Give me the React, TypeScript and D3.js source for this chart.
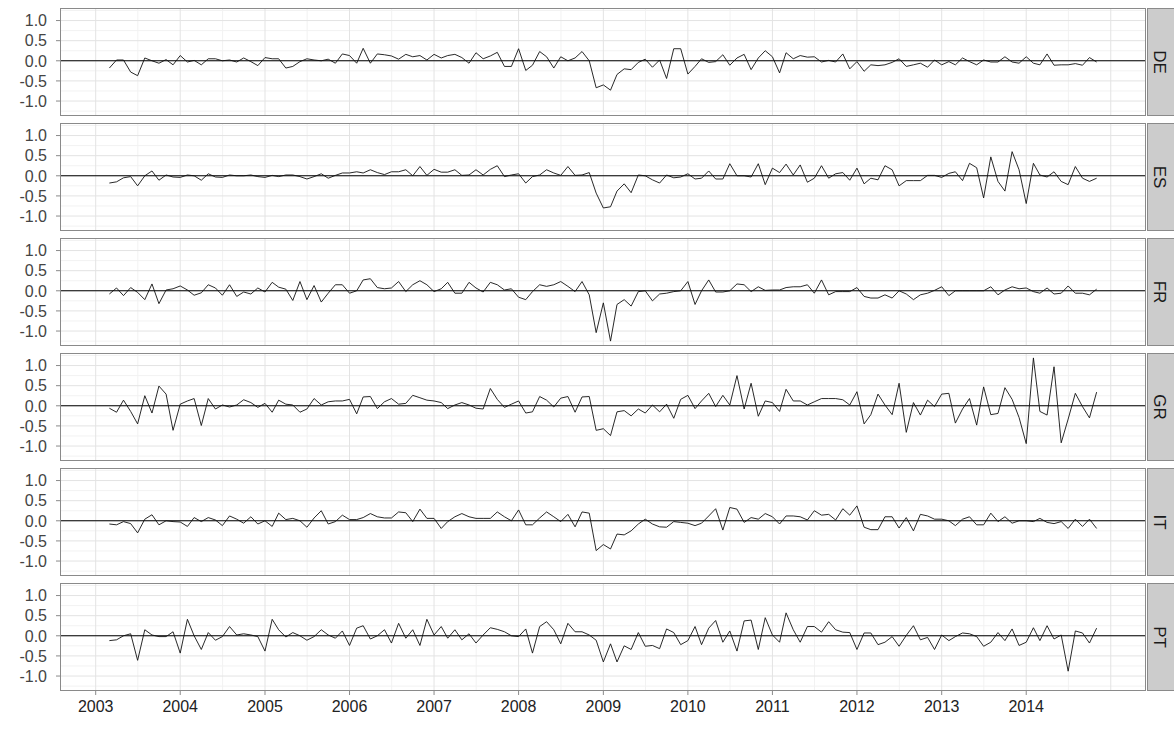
import * as d3 from 'd3'
import { useEffect, useRef } from 'react'

// monthly observations, Mar 2003 .. Nov 2014
const months = d3.timeMonth.range(new Date(2003, 2, 1), new Date(2014, 11, 1))
const countries = ['DE', 'ES', 'FR', 'GR', 'IT', 'PT']
const yearTicks = [2003, 2004, 2005, 2006, 2007, 2008, 2009, 2010, 2011, 2012, 2013, 2014]
const yTicks = [-1, -0.5, 0, 0.5, 1]
const yMinor = [-1.25, -0.75, -0.25, 0.25, 0.75, 1.25]

const DE = [
  -0.18, 0.02, 0.02, -0.28, -0.37, 0.07, 0.0, -0.06, 0.03, -0.1,
  0.13, -0.03, 0.01, -0.1, 0.05, 0.05, 0.0, 0.02, -0.03, 0.07, -0.02, -0.12,
  0.08, 0.05, 0.05, -0.18, -0.14, -0.02, 0.05, 0.02, 0.0, 0.04, -0.06, 0.17,
  0.13, -0.06, 0.31, -0.06, 0.17, 0.15, 0.12, 0.04, 0.16, 0.1, 0.13, 0.02,
  0.16, 0.07, 0.13, 0.16, 0.08, -0.06, 0.2, 0.05, 0.12, 0.21, -0.14, -0.14,
  0.3, -0.24, -0.11, 0.23, 0.1, -0.18, 0.1, 0.0, 0.07, 0.23, 0.0, -0.67,
  -0.6, -0.73, -0.34, -0.2, -0.22, -0.04, 0.04, -0.16, 0.02, -0.44, 0.3, 0.3,
  -0.33, -0.14, 0.05, -0.04, -0.02, 0.15, -0.11, 0.07, 0.16, -0.22, 0.07, 0.25,
  0.1, -0.3, 0.2, 0.05, 0.13, 0.09, 0.1, -0.03, 0.01, -0.03, 0.17, -0.2,
  -0.02, -0.26, -0.1, -0.12, -0.1, -0.04, 0.05, -0.14, -0.1, -0.06, -0.16, 0.02,
  -0.1, -0.02, -0.1, 0.07, -0.02, -0.1, 0.02, -0.03, -0.03, 0.1, -0.03, -0.06,
  0.1, -0.06, -0.1, 0.17, -0.11, -0.1, -0.1, -0.07, -0.11, 0.08, -0.03,
]

const ES = [
  -0.18, -0.15, -0.05, -0.02, -0.25, 0.0, 0.12, -0.11, 0.02, -0.03,
  -0.04, 0.02, 0.0, -0.11, 0.05, -0.03, -0.04, 0.02, 0.0, 0.0, 0.02, -0.02,
  -0.04, 0.01, -0.02, 0.02, 0.02, -0.02, -0.08, -0.02, 0.05, -0.06, 0.01, 0.07,
  0.07, 0.1, 0.07, 0.15, 0.08, 0.03, 0.1, 0.1, 0.15, 0.0, 0.23, 0.01,
  0.16, 0.09, 0.09, 0.15, 0.01, 0.02, 0.15, 0.02, 0.16, 0.25, -0.02, 0.02,
  0.05, -0.18, -0.02, 0.02, 0.15, 0.07, 0.01, 0.23, 0.01, 0.02, 0.08, -0.43,
  -0.8, -0.77, -0.38, -0.2, -0.42, 0.02, 0.0, -0.1, -0.18, 0.02, -0.05, -0.03,
  0.05, -0.08, -0.06, 0.12, -0.08, -0.08, 0.3, 0.0, 0.0, -0.03, 0.3, -0.22,
  0.19, 0.08, 0.29, 0.02, 0.27, -0.16, -0.06, 0.25, -0.06, 0.05, 0.08, -0.11,
  0.19, -0.2, -0.06, -0.1, 0.25, 0.15, -0.25, -0.12, -0.12, -0.12, 0.01, 0.01,
  -0.04, 0.06, 0.1, -0.12, 0.31, 0.2, -0.55, 0.47, -0.14, -0.38, 0.6, 0.15,
  -0.69, 0.31, 0.02, -0.03, 0.1, -0.14, -0.22, 0.23, -0.06, -0.14, -0.06,
]

const FR = [
  -0.08, 0.07, -0.12, 0.08, -0.04, -0.22, 0.17, -0.32, 0.02, 0.05,
  0.12, 0.02, -0.11, -0.05, 0.15, 0.07, -0.11, 0.15, -0.14, -0.03, -0.08, 0.07,
  -0.03, 0.21, 0.09, 0.04, -0.24, 0.23, -0.22, 0.13, -0.28, -0.06, 0.15, 0.15,
  -0.06, 0.0, 0.27, 0.3, 0.08, 0.05, 0.07, 0.23, -0.02, 0.15, 0.25, 0.15,
  -0.02, 0.05, 0.21, -0.06, -0.06, 0.21, 0.07, -0.03, 0.21, 0.15, 0.02, 0.05,
  -0.16, -0.22, -0.02, 0.15, 0.11, 0.15, 0.23, 0.11, -0.02, 0.23, -0.1, -1.04,
  -0.3, -1.25, -0.34, -0.22, -0.38, -0.02, 0.0, -0.25, -0.08, -0.06, -0.02, 0.0,
  0.23, -0.34, 0.0, 0.27, -0.03, -0.03, 0.0, 0.17, 0.15, -0.02, 0.1, 0.01,
  0.02, 0.02, 0.08, 0.1, 0.1, 0.15, -0.06, 0.27, -0.1, -0.02, -0.02, -0.02,
  0.08, -0.14, -0.18, -0.18, -0.1, -0.18, 0.0, -0.08, -0.22, -0.1, -0.06, 0.01,
  0.1, -0.12, 0.0, 0.0, 0.0, 0.0, 0.0, 0.1, -0.1, 0.02, 0.1, 0.05,
  0.07, -0.02, -0.06, 0.07, -0.08, -0.06, 0.12, -0.06, -0.06, -0.1, 0.04,
]

const GR = [
  -0.06, -0.16, 0.14, -0.14, -0.45, 0.25, -0.18, 0.49, 0.29, -0.61,
  0.04, 0.12, 0.18, -0.49, 0.18, -0.08, 0.02, -0.03, 0.02, 0.15, 0.08, -0.04,
  0.06, -0.16, 0.14, 0.04, 0.02, -0.16, -0.08, 0.18, 0.02, 0.1, 0.12, 0.12,
  0.16, -0.2, 0.22, 0.23, -0.07, 0.1, 0.18, 0.04, 0.06, 0.26, 0.2, 0.14,
  0.12, 0.08, -0.07, 0.02, 0.08, 0.02, -0.06, -0.08, 0.43, 0.16, -0.04, 0.04,
  0.12, -0.18, -0.15, 0.23, 0.14, -0.03, 0.19, 0.23, -0.16, 0.22, 0.23, -0.61,
  -0.57, -0.74, -0.15, -0.12, -0.25, -0.08, -0.18, 0.02, -0.15, 0.04, -0.31, 0.16,
  0.26, -0.07, 0.12, 0.31, -0.02, 0.26, 0.02, 0.75, -0.08, 0.56, -0.26, 0.12,
  0.08, -0.14, 0.41, 0.12, 0.12, 0.02, 0.1, 0.18, 0.18, 0.18, 0.15, 0.02,
  0.35, -0.45, -0.22, 0.29, 0.02, -0.22, 0.56, -0.66, 0.08, -0.23, 0.14, -0.02,
  0.29, 0.31, -0.43, -0.08, 0.18, -0.48, 0.47, -0.22, -0.19, 0.45, 0.16, -0.29,
  -0.94, 1.19, -0.14, -0.23, 0.97, -0.92, -0.33, 0.31, -0.02, -0.3, 0.34,
]

const IT = [
  -0.08, -0.1, -0.02, -0.07, -0.3, 0.04, 0.15, -0.1, 0.0, -0.02,
  -0.03, -0.14, 0.08, -0.02, 0.08, 0.02, -0.12, 0.12, 0.04, -0.06, 0.1, -0.08,
  0.0, -0.14, 0.19, 0.03, 0.06, 0.0, -0.16, 0.07, 0.25, -0.08, -0.02, 0.14,
  0.03, 0.03, 0.08, 0.18, 0.1, 0.07, 0.07, 0.22, 0.2, -0.02, 0.29, 0.06,
  0.06, -0.19, -0.02, 0.1, 0.18, 0.1, 0.06, 0.06, 0.06, 0.22, 0.1, 0.0,
  0.27, -0.1, -0.1, 0.07, 0.22, 0.1, -0.02, 0.16, -0.15, 0.22, 0.19, -0.74,
  -0.59, -0.7, -0.33, -0.35, -0.25, -0.08, 0.04, -0.08, -0.15, -0.16, -0.02, -0.04,
  -0.06, -0.12, -0.06, 0.12, 0.3, -0.23, 0.33, 0.29, -0.04, 0.08, 0.04, 0.18,
  0.1, -0.08, 0.12, 0.12, 0.1, 0.02, 0.25, 0.14, 0.16, 0.02, 0.3, 0.14,
  0.37, -0.16, -0.22, -0.22, 0.1, 0.1, -0.18, 0.08, -0.25, 0.16, 0.12, 0.04,
  0.04, 0.0, -0.12, 0.04, 0.1, -0.1, -0.1, 0.19, -0.02, 0.1, -0.06, 0.0,
  0.0, -0.02, 0.06, -0.04, -0.07, -0.02, -0.19, 0.04, -0.14, 0.04, -0.19,
]

const PT = [
  -0.12, -0.1, 0.0, 0.05, -0.61, 0.15, 0.02, -0.02, -0.02, 0.1,
  -0.43, 0.41, 0.0, -0.34, 0.08, -0.11, -0.02, 0.23, 0.02, 0.05, 0.02, -0.02,
  -0.38, 0.41, 0.15, -0.03, 0.08, 0.0, -0.11, -0.02, 0.15, 0.02, -0.06, 0.12,
  -0.24, 0.19, 0.25, -0.08, 0.0, 0.15, -0.18, 0.31, -0.06, 0.15, -0.24, 0.41,
  0.02, 0.23, -0.06, 0.15, -0.1, 0.05, -0.18, 0.02, 0.2, 0.16, 0.1, 0.0,
  -0.02, 0.17, -0.43, 0.23, 0.35, 0.15, -0.2, 0.31, 0.1, 0.1, 0.02, -0.11,
  -0.65, -0.2, -0.65, -0.25, -0.34, 0.08, -0.26, -0.24, -0.32, 0.17, 0.08, -0.22,
  -0.12, 0.23, -0.22, 0.19, 0.38, -0.16, 0.12, -0.38, 0.37, 0.39, -0.34, 0.45,
  0.02, -0.16, 0.57, 0.15, -0.16, 0.23, 0.23, 0.09, 0.35, 0.15, 0.09, 0.08,
  -0.34, 0.07, 0.07, -0.22, -0.16, -0.02, -0.26, 0.01, 0.25, -0.1, -0.04, -0.34,
  0.02, -0.12, -0.02, 0.07, 0.05, -0.02, -0.26, -0.16, 0.08, -0.12, 0.17, -0.24,
  -0.16, 0.2, -0.12, 0.25, -0.08, 0.02, -0.88, 0.12, 0.07, -0.18, 0.19,
]

const seriesByCountry: Record<string, number[]> = { DE, ES, FR, GR, IT, PT }

const W = 1174
const H = 729
const LEFT = 60
const RIGHT = 1146
const STRIP_W = 28
const TOP0 = 8
const PANEL_H = 108
const PANEL_STEP = 115
const FONT = '"Liberation Sans", Arial, sans-serif'

export default function App() {
  const ref = useRef<SVGSVGElement | null>(null)

  useEffect(() => {
    const svgEl = ref.current
    if (!svgEl) return
    const svg = d3.select(svgEl)
    svg.selectAll('*').remove()

    const t0 = months[0].getTime()
    const t1 = months[months.length - 1].getTime()
    const padT = (t1 - t0) * 0.05
    const x = d3
      .scaleTime()
      .domain([new Date(t0 - padT), new Date(t1 + padT)])
      .range([LEFT, RIGHT])
    const [dx0, dx1] = x.domain()

    const all = countries.flatMap((c) => seriesByCountry[c])
    const vMin = d3.min(all) ?? -1
    const vMax = d3.max(all) ?? 1
    const padV = (vMax - vMin) * 0.05

    const majorX = d3.range(2002, 2017).map((yr) => new Date(yr, 0, 1)).filter((d) => d > dx0 && d < dx1)
    const minorX = d3.range(2002, 2017).map((yr) => new Date(yr, 6, 2)).filter((d) => d > dx0 && d < dx1)

    countries.forEach((c, i) => {
      const top = TOP0 + i * PANEL_STEP
      const bottom = top + PANEL_H
      const y = d3.scaleLinear().domain([vMin - padV, vMax + padV]).range([bottom, top])
      const g = svg.append('g')

      g.append('rect')
        .attr('x', LEFT)
        .attr('y', top)
        .attr('width', RIGHT - LEFT)
        .attr('height', PANEL_H)
        .attr('fill', '#fff')

      // minor grid
      for (const v of yMinor) {
        g.append('line')
          .attr('x1', LEFT).attr('x2', RIGHT)
          .attr('y1', y(v)).attr('y2', y(v))
          .attr('stroke', '#f2f2f2').attr('stroke-width', 1)
      }
      for (const d of minorX) {
        g.append('line')
          .attr('x1', x(d)).attr('x2', x(d))
          .attr('y1', top).attr('y2', bottom)
          .attr('stroke', '#f2f2f2').attr('stroke-width', 1)
      }
      // major grid
      for (const v of yTicks) {
        g.append('line')
          .attr('x1', LEFT).attr('x2', RIGHT)
          .attr('y1', y(v)).attr('y2', y(v))
          .attr('stroke', '#e3e3e3').attr('stroke-width', 1)
      }
      for (const d of majorX) {
        g.append('line')
          .attr('x1', x(d)).attr('x2', x(d))
          .attr('y1', top).attr('y2', bottom)
          .attr('stroke', '#e3e3e3').attr('stroke-width', 1)
      }

      // zero reference line
      g.append('line')
        .attr('x1', LEFT).attr('x2', RIGHT)
        .attr('y1', y(0)).attr('y2', y(0))
        .attr('stroke', '#000').attr('stroke-width', 1.1)

      const vals = seriesByCountry[c]
      const line = d3
        .line<number>()
        .x((_, k) => x(months[k]))
        .y((v) => y(v))
      g.append('path')
        .attr('d', line(vals) ?? '')
        .attr('fill', 'none')
        .attr('stroke', '#111')
        .attr('stroke-width', 0.9)

      g.append('rect')
        .attr('x', LEFT + 0.5)
        .attr('y', top + 0.5)
        .attr('width', RIGHT - LEFT - 1)
        .attr('height', PANEL_H - 1)
        .attr('fill', 'none')
        .attr('stroke', '#8a8a8a')
        .attr('stroke-width', 1)

      // y axis
      for (const v of yTicks) {
        g.append('line')
          .attr('x1', LEFT - 4).attr('x2', LEFT)
          .attr('y1', y(v)).attr('y2', y(v))
          .attr('stroke', '#8a8a8a')
        g.append('text')
          .attr('x', LEFT - 13)
          .attr('y', y(v))
          .attr('dy', '0.36em')
          .attr('text-anchor', 'end')
          .attr('font-family', FONT)
          .attr('font-size', 16)
          .attr('fill', '#444')
          .text(d3.format('.1f')(v).replace('−', '-'))
      }

      // strip
      g.append('rect')
        .attr('x', RIGHT + 1.5)
        .attr('y', top + 0.5)
        .attr('width', STRIP_W)
        .attr('height', PANEL_H - 1)
        .attr('fill', '#cccccc')
        .attr('stroke', '#8a8a8a')
      g.append('text')
        .attr('transform', `translate(${RIGHT + 14},${top + PANEL_H / 2}) rotate(90)`)
        .attr('text-anchor', 'middle')
        .attr('dy', '0.36em')
        .attr('font-family', FONT)
        .attr('font-size', 17)
        .attr('fill', '#1a1a1a')
        .text(c)
    })

    // x axis below last panel
    const axisTop = TOP0 + (countries.length - 1) * PANEL_STEP + PANEL_H
    for (const yr of yearTicks) {
      const d = new Date(yr, 0, 1)
      svg.append('line')
        .attr('x1', x(d)).attr('x2', x(d))
        .attr('y1', axisTop).attr('y2', axisTop + 4)
        .attr('stroke', '#8a8a8a')
      svg.append('text')
        .attr('x', x(d))
        .attr('y', axisTop + 21)
        .attr('text-anchor', 'middle')
        .attr('font-family', FONT)
        .attr('font-size', 16)
        .attr('fill', '#222')
        .text(String(yr))
    }
  }, [])

  return (
    <svg
      ref={ref}
      width={W}
      height={H}
      style={{ position: 'absolute', left: 0, top: 0, background: '#fff' }}
    />
  )
}
